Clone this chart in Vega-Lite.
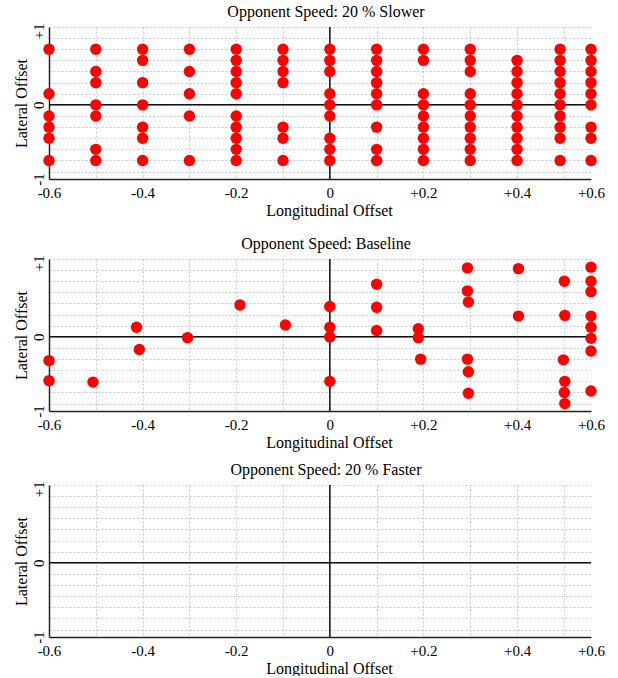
{
  "$schema": "https://vega.github.io/schema/vega-lite/v6.json",
  "padding": {"left": 13, "top": 3, "right": 0, "bottom": 0},
  "config": {
    "font": "Liberation Serif",
    "view": {"stroke": null},
    "title": {"font": "Liberation Serif", "fontSize": 16, "fontWeight": "normal", "color": "#000", "offset": 3, "dx": 6, "anchor": "middle"},
    "axis": {
      "labelFont": "Liberation Serif", "titleFont": "Liberation Serif",
      "labelFontSize": 15, "titleFontSize": 16, "titleFontWeight": "normal",
      "labelColor": "#000", "titleColor": "#000",
      "ticks": false, "domainColor": "#222", "domainWidth": 1.5,
      "gridColor": "#c8c8c8", "gridDash": [2, 2], "gridWidth": 1,
      "labelOverlap": false, "labelFlush": false, "tickCount": 30
    }
  },
  "datasets": {
    "points": [
      {"panel": "slower", "longitudinal": -0.6, "lateral": 0.75},
      {"panel": "slower", "longitudinal": -0.6, "lateral": 0.15},
      {"panel": "slower", "longitudinal": -0.6, "lateral": -0.15},
      {"panel": "slower", "longitudinal": -0.6, "lateral": -0.3},
      {"panel": "slower", "longitudinal": -0.6, "lateral": -0.45},
      {"panel": "slower", "longitudinal": -0.6, "lateral": -0.75},
      {"panel": "slower", "longitudinal": -0.5, "lateral": 0.75},
      {"panel": "slower", "longitudinal": -0.5, "lateral": 0.45},
      {"panel": "slower", "longitudinal": -0.5, "lateral": 0.3},
      {"panel": "slower", "longitudinal": -0.5, "lateral": 0},
      {"panel": "slower", "longitudinal": -0.5, "lateral": -0.15},
      {"panel": "slower", "longitudinal": -0.5, "lateral": -0.6},
      {"panel": "slower", "longitudinal": -0.5, "lateral": -0.75},
      {"panel": "slower", "longitudinal": -0.4, "lateral": 0.75},
      {"panel": "slower", "longitudinal": -0.4, "lateral": 0.6},
      {"panel": "slower", "longitudinal": -0.4, "lateral": 0.3},
      {"panel": "slower", "longitudinal": -0.4, "lateral": 0},
      {"panel": "slower", "longitudinal": -0.4, "lateral": -0.3},
      {"panel": "slower", "longitudinal": -0.4, "lateral": -0.45},
      {"panel": "slower", "longitudinal": -0.4, "lateral": -0.75},
      {"panel": "slower", "longitudinal": -0.3, "lateral": 0.75},
      {"panel": "slower", "longitudinal": -0.3, "lateral": 0.45},
      {"panel": "slower", "longitudinal": -0.3, "lateral": 0.15},
      {"panel": "slower", "longitudinal": -0.3, "lateral": -0.15},
      {"panel": "slower", "longitudinal": -0.3, "lateral": -0.75},
      {"panel": "slower", "longitudinal": -0.2, "lateral": 0.75},
      {"panel": "slower", "longitudinal": -0.2, "lateral": 0.6},
      {"panel": "slower", "longitudinal": -0.2, "lateral": 0.45},
      {"panel": "slower", "longitudinal": -0.2, "lateral": 0.3},
      {"panel": "slower", "longitudinal": -0.2, "lateral": 0.15},
      {"panel": "slower", "longitudinal": -0.2, "lateral": -0.15},
      {"panel": "slower", "longitudinal": -0.2, "lateral": -0.3},
      {"panel": "slower", "longitudinal": -0.2, "lateral": -0.45},
      {"panel": "slower", "longitudinal": -0.2, "lateral": -0.6},
      {"panel": "slower", "longitudinal": -0.2, "lateral": -0.75},
      {"panel": "slower", "longitudinal": -0.1, "lateral": 0.75},
      {"panel": "slower", "longitudinal": -0.1, "lateral": 0.6},
      {"panel": "slower", "longitudinal": -0.1, "lateral": 0.45},
      {"panel": "slower", "longitudinal": -0.1, "lateral": 0.3},
      {"panel": "slower", "longitudinal": -0.1, "lateral": -0.3},
      {"panel": "slower", "longitudinal": -0.1, "lateral": -0.45},
      {"panel": "slower", "longitudinal": -0.1, "lateral": -0.75},
      {"panel": "slower", "longitudinal": 0, "lateral": 0.75},
      {"panel": "slower", "longitudinal": 0, "lateral": 0.6},
      {"panel": "slower", "longitudinal": 0, "lateral": 0.45},
      {"panel": "slower", "longitudinal": 0, "lateral": 0.15},
      {"panel": "slower", "longitudinal": 0, "lateral": 0},
      {"panel": "slower", "longitudinal": 0, "lateral": -0.15},
      {"panel": "slower", "longitudinal": 0, "lateral": -0.45},
      {"panel": "slower", "longitudinal": 0, "lateral": -0.6},
      {"panel": "slower", "longitudinal": 0, "lateral": -0.75},
      {"panel": "slower", "longitudinal": 0.1, "lateral": 0.75},
      {"panel": "slower", "longitudinal": 0.1, "lateral": 0.6},
      {"panel": "slower", "longitudinal": 0.1, "lateral": 0.45},
      {"panel": "slower", "longitudinal": 0.1, "lateral": 0.3},
      {"panel": "slower", "longitudinal": 0.1, "lateral": 0.15},
      {"panel": "slower", "longitudinal": 0.1, "lateral": 0},
      {"panel": "slower", "longitudinal": 0.1, "lateral": -0.3},
      {"panel": "slower", "longitudinal": 0.1, "lateral": -0.6},
      {"panel": "slower", "longitudinal": 0.1, "lateral": -0.75},
      {"panel": "slower", "longitudinal": 0.2, "lateral": 0.75},
      {"panel": "slower", "longitudinal": 0.2, "lateral": 0.6},
      {"panel": "slower", "longitudinal": 0.2, "lateral": 0.15},
      {"panel": "slower", "longitudinal": 0.2, "lateral": 0},
      {"panel": "slower", "longitudinal": 0.2, "lateral": -0.15},
      {"panel": "slower", "longitudinal": 0.2, "lateral": -0.3},
      {"panel": "slower", "longitudinal": 0.2, "lateral": -0.45},
      {"panel": "slower", "longitudinal": 0.2, "lateral": -0.6},
      {"panel": "slower", "longitudinal": 0.2, "lateral": -0.75},
      {"panel": "slower", "longitudinal": 0.3, "lateral": 0.75},
      {"panel": "slower", "longitudinal": 0.3, "lateral": 0.6},
      {"panel": "slower", "longitudinal": 0.3, "lateral": 0.45},
      {"panel": "slower", "longitudinal": 0.3, "lateral": 0.15},
      {"panel": "slower", "longitudinal": 0.3, "lateral": 0},
      {"panel": "slower", "longitudinal": 0.3, "lateral": -0.15},
      {"panel": "slower", "longitudinal": 0.3, "lateral": -0.3},
      {"panel": "slower", "longitudinal": 0.3, "lateral": -0.45},
      {"panel": "slower", "longitudinal": 0.3, "lateral": -0.6},
      {"panel": "slower", "longitudinal": 0.3, "lateral": -0.75},
      {"panel": "slower", "longitudinal": 0.4, "lateral": 0.6},
      {"panel": "slower", "longitudinal": 0.4, "lateral": 0.45},
      {"panel": "slower", "longitudinal": 0.4, "lateral": 0.3},
      {"panel": "slower", "longitudinal": 0.4, "lateral": 0.15},
      {"panel": "slower", "longitudinal": 0.4, "lateral": 0},
      {"panel": "slower", "longitudinal": 0.4, "lateral": -0.15},
      {"panel": "slower", "longitudinal": 0.4, "lateral": -0.3},
      {"panel": "slower", "longitudinal": 0.4, "lateral": -0.45},
      {"panel": "slower", "longitudinal": 0.4, "lateral": -0.6},
      {"panel": "slower", "longitudinal": 0.4, "lateral": -0.75},
      {"panel": "slower", "longitudinal": 0.492, "lateral": 0.75},
      {"panel": "slower", "longitudinal": 0.492, "lateral": 0.6},
      {"panel": "slower", "longitudinal": 0.492, "lateral": 0.45},
      {"panel": "slower", "longitudinal": 0.492, "lateral": 0.3},
      {"panel": "slower", "longitudinal": 0.492, "lateral": 0.15},
      {"panel": "slower", "longitudinal": 0.492, "lateral": 0},
      {"panel": "slower", "longitudinal": 0.492, "lateral": -0.15},
      {"panel": "slower", "longitudinal": 0.492, "lateral": -0.3},
      {"panel": "slower", "longitudinal": 0.492, "lateral": -0.45},
      {"panel": "slower", "longitudinal": 0.492, "lateral": -0.75},
      {"panel": "slower", "longitudinal": 0.6, "lateral": 0.75},
      {"panel": "slower", "longitudinal": 0.6, "lateral": 0.6},
      {"panel": "slower", "longitudinal": 0.6, "lateral": 0.45},
      {"panel": "slower", "longitudinal": 0.6, "lateral": 0.3},
      {"panel": "slower", "longitudinal": 0.6, "lateral": 0.15},
      {"panel": "slower", "longitudinal": 0.6, "lateral": 0},
      {"panel": "slower", "longitudinal": 0.6, "lateral": -0.3},
      {"panel": "slower", "longitudinal": 0.6, "lateral": -0.45},
      {"panel": "slower", "longitudinal": 0.6, "lateral": -0.75},
      {"panel": "baseline", "longitudinal": -0.6, "lateral": -0.32},
      {"panel": "baseline", "longitudinal": -0.6, "lateral": -0.59},
      {"panel": "baseline", "longitudinal": -0.506, "lateral": -0.61},
      {"panel": "baseline", "longitudinal": -0.413, "lateral": 0.13},
      {"panel": "baseline", "longitudinal": -0.407, "lateral": -0.17},
      {"panel": "baseline", "longitudinal": -0.304, "lateral": -0.01},
      {"panel": "baseline", "longitudinal": -0.192, "lateral": 0.43},
      {"panel": "baseline", "longitudinal": -0.095, "lateral": 0.16},
      {"panel": "baseline", "longitudinal": 0, "lateral": 0.41},
      {"panel": "baseline", "longitudinal": 0, "lateral": 0.13},
      {"panel": "baseline", "longitudinal": 0, "lateral": 0},
      {"panel": "baseline", "longitudinal": 0, "lateral": -0.6},
      {"panel": "baseline", "longitudinal": 0.1, "lateral": 0.71},
      {"panel": "baseline", "longitudinal": 0.1, "lateral": 0.4},
      {"panel": "baseline", "longitudinal": 0.1, "lateral": 0.086},
      {"panel": "baseline", "longitudinal": 0.189, "lateral": 0.11},
      {"panel": "baseline", "longitudinal": 0.189, "lateral": -0.01},
      {"panel": "baseline", "longitudinal": 0.194, "lateral": -0.3},
      {"panel": "baseline", "longitudinal": 0.294, "lateral": 0.93},
      {"panel": "baseline", "longitudinal": 0.294, "lateral": 0.62},
      {"panel": "baseline", "longitudinal": 0.296, "lateral": 0.47},
      {"panel": "baseline", "longitudinal": 0.294, "lateral": -0.3},
      {"panel": "baseline", "longitudinal": 0.296, "lateral": -0.47},
      {"panel": "baseline", "longitudinal": 0.296, "lateral": -0.76},
      {"panel": "baseline", "longitudinal": 0.403, "lateral": 0.92},
      {"panel": "baseline", "longitudinal": 0.403, "lateral": 0.28},
      {"panel": "baseline", "longitudinal": 0.501, "lateral": 0.75},
      {"panel": "baseline", "longitudinal": 0.502, "lateral": 0.29},
      {"panel": "baseline", "longitudinal": 0.499, "lateral": -0.31},
      {"panel": "baseline", "longitudinal": 0.502, "lateral": -0.6},
      {"panel": "baseline", "longitudinal": 0.501, "lateral": -0.75},
      {"panel": "baseline", "longitudinal": 0.502, "lateral": -0.9},
      {"panel": "baseline", "longitudinal": 0.6, "lateral": 0.94},
      {"panel": "baseline", "longitudinal": 0.6, "lateral": 0.75},
      {"panel": "baseline", "longitudinal": 0.6, "lateral": 0.61},
      {"panel": "baseline", "longitudinal": 0.6, "lateral": 0.28},
      {"panel": "baseline", "longitudinal": 0.6, "lateral": 0.13},
      {"panel": "baseline", "longitudinal": 0.6, "lateral": -0.02},
      {"panel": "baseline", "longitudinal": 0.6, "lateral": -0.19},
      {"panel": "baseline", "longitudinal": 0.6, "lateral": -0.73}
    ],
    "origin": [{"longitudinal": 0, "lateral": 0}]
  },
  "spacing": 17,
  "vconcat": [
    {
      "title": "Opponent Speed: 20 % Slower",
      "width": 542, "height": 152,
      "layer": [
        {
          "data": {"name": "origin"},
          "mark": {"type": "rule", "color": "#111", "strokeWidth": 1.5},
          "encoding": {"x": {"field": "longitudinal", "type": "quantitative"}}
        },
        {
          "data": {"name": "origin"},
          "mark": {"type": "rule", "color": "#111", "strokeWidth": 1.5},
          "encoding": {"y": {"field": "lateral", "type": "quantitative"}}
        },
        {
          "data": {"name": "points"},
          "transform": [{"filter": "datum.panel == 'slower'"}],
          "mark": {"type": "point", "filled": true, "size": 130, "color": "#ff0000", "opacity": 1},
          "encoding": {
            "x": {"field": "longitudinal", "type": "quantitative",
              "scale": {"domain": [-0.6, 0.558], "clamp": true, "nice": false, "zero": false},
              "axis": {"title": "Longitudinal Offset", "titleX": 280, "titlePadding": 2, "labelPadding": 6, "labelOverlap": false, "tickCount": 30,
                "values": [-0.6, -0.5, -0.4, -0.3, -0.2, -0.1, 0, 0.1, 0.2, 0.3, 0.4, 0.5, 0.558],
                "labelExpr": "datum.value > 0.55 ? '+0.6' : (abs(round(datum.value * 10)) % 2 == 1 ? '' : (datum.value < -0.001 ? '-' + format(-datum.value, '.1f') : (datum.value > 0.001 ? '+' + format(datum.value, '.1f') : '0')))",
                "gridOpacity": {"condition": {"test": "datum.value > 0.55 || datum.value < -0.59", "value": 0}, "value": 1}}},
            "y": {"field": "lateral", "type": "quantitative",
              "scale": {"domain": [-1, 1.05], "nice": false, "zero": false},
              "axis": {"title": "Lateral Offset", "titlePadding": 2, "labelPadding": 3, "labelAngle": 270, "labelOverlap": false, "tickCount": 30,
                "values": [-1, -0.9, -0.75, -0.6, -0.45, -0.3, -0.15, 0, 0.15, 0.3, 0.45, 0.6, 0.75, 0.9, 1, 1.05],
                "labelExpr": "datum.value == 1 ? '+1' : (datum.value == -1 ? '-1' : (datum.value == 0 ? '0' : ''))",
                "gridOpacity": {"condition": {"test": "abs(datum.value) == 1", "value": 0}, "value": 1}}}
          }
        }
      ]
    },
    {
      "spacing": 11,
      "vconcat": [
        {
          "title": "Opponent Speed: Baseline",
          "width": 542, "height": 152,
          "layer": [
            {
              "data": {"name": "origin"},
              "mark": {"type": "rule", "color": "#111", "strokeWidth": 1.5},
              "encoding": {"x": {"field": "longitudinal", "type": "quantitative"}}
            },
            {
              "data": {"name": "origin"},
              "mark": {"type": "rule", "color": "#111", "strokeWidth": 1.5},
              "encoding": {"y": {"field": "lateral", "type": "quantitative"}}
            },
            {
              "data": {"name": "points"},
              "transform": [{"filter": "datum.panel == 'baseline'"}],
              "mark": {"type": "point", "filled": true, "size": 130, "color": "#ff0000", "opacity": 1},
              "encoding": {
                "x": {"field": "longitudinal", "type": "quantitative",
                  "scale": {"domain": [-0.6, 0.558], "clamp": true, "nice": false, "zero": false},
                  "axis": {"title": "Longitudinal Offset", "titleX": 280, "titlePadding": 2, "labelPadding": 6, "labelOverlap": false, "tickCount": 30,
                    "values": [-0.6, -0.5, -0.4, -0.3, -0.2, -0.1, 0, 0.1, 0.2, 0.3, 0.4, 0.5, 0.558],
                    "labelExpr": "datum.value > 0.55 ? '+0.6' : (abs(round(datum.value * 10)) % 2 == 1 ? '' : (datum.value < -0.001 ? '-' + format(-datum.value, '.1f') : (datum.value > 0.001 ? '+' + format(datum.value, '.1f') : '0')))",
                    "gridOpacity": {"condition": {"test": "datum.value > 0.55 || datum.value < -0.59", "value": 0}, "value": 1}}},
                "y": {"field": "lateral", "type": "quantitative",
                  "scale": {"domain": [-1, 1.05], "nice": false, "zero": false},
                  "axis": {"title": "Lateral Offset", "titlePadding": 2, "labelPadding": 3, "labelAngle": 270, "labelOverlap": false, "tickCount": 30,
                    "values": [-1, -0.9, -0.75, -0.6, -0.45, -0.3, -0.15, 0, 0.15, 0.3, 0.45, 0.6, 0.75, 0.9, 1, 1.05],
                    "labelExpr": "datum.value == 1 ? '+1' : (datum.value == -1 ? '-1' : (datum.value == 0 ? '0' : ''))",
                    "gridOpacity": {"condition": {"test": "abs(datum.value) == 1", "value": 0}, "value": 1}}}
              }
            }
          ]
        },
        {
          "title": "Opponent Speed: 20 % Faster",
          "width": 542, "height": 152,
          "layer": [
            {
              "data": {"name": "origin"},
              "mark": {"type": "rule", "color": "#111", "strokeWidth": 1.5},
              "encoding": {"x": {"field": "longitudinal", "type": "quantitative"}}
            },
            {
              "data": {"name": "origin"},
              "mark": {"type": "rule", "color": "#111", "strokeWidth": 1.5},
              "encoding": {"y": {"field": "lateral", "type": "quantitative"}}
            },
            {
              "data": {"name": "points"},
              "transform": [{"filter": "datum.panel == 'faster'"}],
              "mark": {"type": "point", "filled": true, "size": 130, "color": "#ff0000", "opacity": 1},
              "encoding": {
                "x": {"field": "longitudinal", "type": "quantitative",
                  "scale": {"domain": [-0.6, 0.558], "clamp": true, "nice": false, "zero": false},
                  "axis": {"title": "Longitudinal Offset", "titleX": 280, "titlePadding": 2, "labelPadding": 6, "labelOverlap": false, "tickCount": 30,
                    "values": [-0.6, -0.5, -0.4, -0.3, -0.2, -0.1, 0, 0.1, 0.2, 0.3, 0.4, 0.5, 0.558],
                    "labelExpr": "datum.value > 0.55 ? '+0.6' : (abs(round(datum.value * 10)) % 2 == 1 ? '' : (datum.value < -0.001 ? '-' + format(-datum.value, '.1f') : (datum.value > 0.001 ? '+' + format(datum.value, '.1f') : '0')))",
                    "gridOpacity": {"condition": {"test": "datum.value > 0.55 || datum.value < -0.59", "value": 0}, "value": 1}}},
                "y": {"field": "lateral", "type": "quantitative",
                  "scale": {"domain": [-1, 1.05], "nice": false, "zero": false},
                  "axis": {"title": "Lateral Offset", "titlePadding": 2, "labelPadding": 3, "labelAngle": 270, "labelOverlap": false, "tickCount": 30,
                    "values": [-1, -0.9, -0.75, -0.6, -0.45, -0.3, -0.15, 0, 0.15, 0.3, 0.45, 0.6, 0.75, 0.9, 1, 1.05],
                    "labelExpr": "datum.value == 1 ? '+1' : (datum.value == -1 ? '-1' : (datum.value == 0 ? '0' : ''))",
                    "gridOpacity": {"condition": {"test": "abs(datum.value) == 1", "value": 0}, "value": 1}}}
              }
            }
          ]
        }
      ]
    }
  ]
}
